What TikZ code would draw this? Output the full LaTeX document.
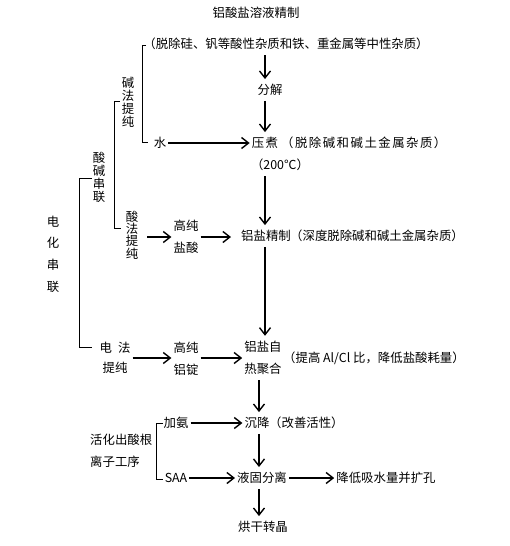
\documentclass[tikz,border=0pt]{standalone}
\usepackage{fontspec}
\setmainfont{Noto Sans CJK SC}
\newfontfamily\widecjk[LetterSpace=12]{Noto Sans CJK SC}
\usetikzlibrary{arrows.meta}

\begin{document}
\begin{tikzpicture}[x=1pt, y=-1pt, >={Straight Barb[length=7pt, width=11pt]},
    lbl/.style={font=\fontsize{12.4}{14}\selectfont, inner xsep=2pt, inner ysep=5pt},
    col/.style={lbl, align=center, font=\fontsize{12.4}{13}\selectfont},
    twoline/.style={lbl, align=center, font=\fontsize{12.4}{21.5}\selectfont},
    note/.style={lbl, anchor=west, inner xsep=0pt},
    flow/.style={->, line width=1.4pt},
    bracket/.style={line width=1pt}]
    \useasboundingbox (0,0) rectangle (510,546);
    \coordinate (axis) at (265,0);
    \coordinate (axis2) at (259,0);

    \node[lbl] (title) at (256,13) {铝酸盐溶液精制};
    \node[lbl] (top) at (286,44) {（脱除硅、钒等酸性杂质和铁、重金属等中性杂质）};
    \node[lbl] (fenjie) at (270,90) {分解};
    \node[lbl, font=\fontsize{12.4}{14}\widecjk] (yazhu) at (265,143) {压煮};
    \node[note, font=\fontsize{12.4}{14}\widecjk] (yznote) at (281,143) {（脱除碱和碱土金属杂质）};
    \node[lbl] (temp) at (280,165) {（200℃）};
    \node[lbl] (water) at (160,143) {水};
    \node[col] (jianfa) at (128,102) {碱\\法\\提\\纯};
    \node[col] (suanjian) at (99,177) {酸\\碱\\串\\联};
    \node[col, font=\fontsize{12.4}{21.7}\selectfont] (dianhua) at (53,254) {电\\化\\串\\联};
    \node[col, font=\fontsize{12.4}{12.3}\selectfont] (suanfa) at (132,235) {酸\\法\\提\\纯};
    \node[twoline] (hcl) at (186,237) {高纯\\盐酸};
    \node[lbl] (refine) at (266,236) {铝盐精制};
    \node[note] (refnote) at (290,236) {（深度脱除碱和碱土金属杂质）};
    \node[twoline, font=\fontsize{12.4}{20.5}\selectfont] (dianfa) at (115,358) {电\hspace{0.5em}法\\提纯};
    \node[twoline] (ingot) at (186,359) {高纯\\铝锭};
    \node[twoline, font=\fontsize{12.4}{22.5}\selectfont] (poly) at (263,358) {铝盐自\\热聚合};
    \node[note] (polynote) at (283,358) {（提高 Al/Cl 比，降低盐酸耗量）};
    \node[lbl] (settle) at (257,423) {沉降};
    \node[note] (setnote) at (269,423) {（改善活性）};
    \node[lbl] (ammonia) at (176,423) {加氨};
    \node[twoline, anchor=west, align=left, font=\fontsize{12.4}{22}\selectfont] (activ) at (88,451) {活化出酸根\\离子工序};
    \node[lbl] (saa) at (176,478) {SAA};
    \node[lbl] (sep) at (262,478) {液固分离};
    \node[lbl] (lower) at (386,478) {降低吸水量并扩孔};
    \node[lbl] (dry) at (263,527) {烘干转晶};

    % main flow
    \draw[flow] (top.south -| axis) -- (fenjie.north -| axis);
    \draw[flow] (fenjie.south -| axis) -- (yazhu.north -| axis);
    \draw[flow] (water.east) -- (water.east -| yazhu.west);
    \draw[flow] (temp.south -| axis) -- (refine.north -| axis);
    \draw[flow, shorten <=7pt] (suanfa.east |- hcl.west) -- (hcl.west);
    \draw[flow, shorten >=8pt] (hcl.east) -- (hcl.east -| refine.west);
    \draw[flow] (refine.south -| axis) -- (poly.north -| axis);
    \draw[flow] (dianfa.east) -- (dianfa.east -| ingot.west);
    \draw[flow] (ingot.east |- dianfa.east) -- (dianfa.east -| poly.west);
    \draw[flow] (poly.south -| axis2) -- (settle.north -| axis2);
    \draw[flow] (ammonia.east) -- (settle.west);
    \draw[flow] (settle.south -| axis2) -- (sep.north -| axis2);
    \draw[flow] (saa.east) -- (sep.west);
    \draw[flow] (sep.east) -- (lower.west);
    \draw[flow] (sep.south -| axis2) -- (dry.north -| axis2);

    % brackets
    \draw[bracket] (146,45) -- (142,45) -- (142,142) -- (148,142);
    \draw[bracket] (120,101) -- (114,101) -- (114,228) -- (121,228);
    \draw[bracket] (92,178) -- (79,178) -- (79,347) -- (92,347);
    \draw[bracket] (163,423) -- (156,423) -- (156,479) -- (163,479);
\end{tikzpicture}
\end{document}
